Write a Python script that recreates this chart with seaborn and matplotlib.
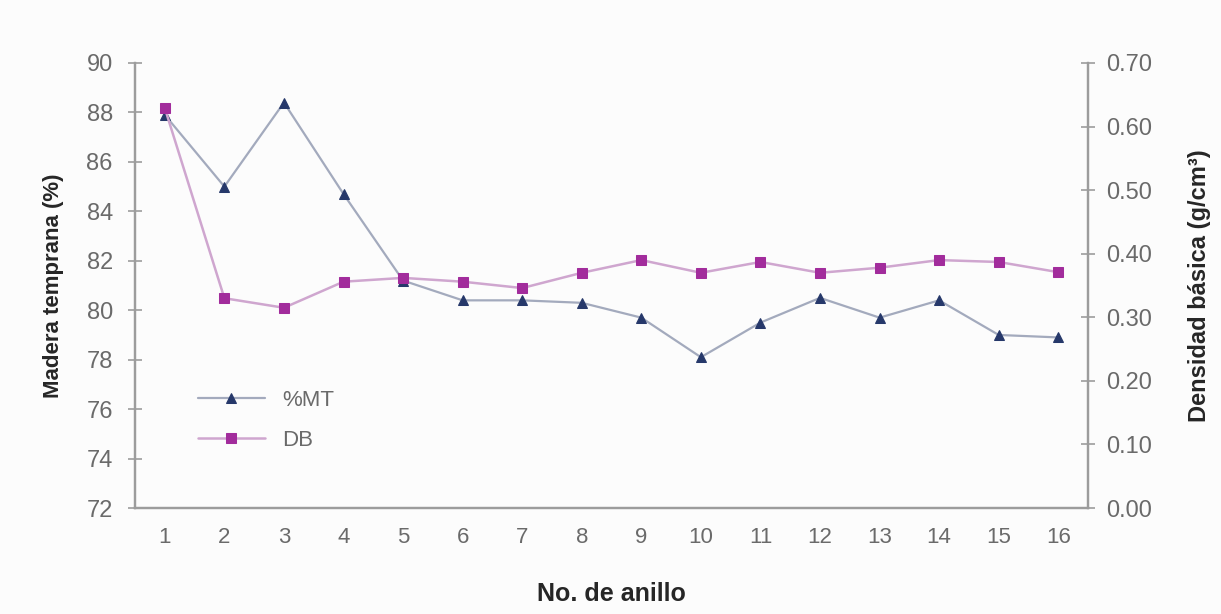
import matplotlib
matplotlib.use("Agg")
import matplotlib.pyplot as plt
import seaborn as sns
import pandas as pd

# Ring number along the stem
anillo = list(range(1, 17))
# Earlywood percentage per ring (left axis)
madera_temprana = [87.9, 85.0, 88.4, 84.7, 81.2, 80.4, 80.4, 80.3,
                   79.7, 78.1, 79.5, 80.5, 79.7, 80.4, 79.0, 78.9]
# Basic density per ring, g/cm3 (right axis)
densidad = [0.629, 0.330, 0.315, 0.356, 0.362, 0.356, 0.346, 0.370,
            0.390, 0.370, 0.387, 0.370, 0.378, 0.390, 0.387, 0.371]

left_ticks = [72, 74, 76, 78, 80, 82, 84, 86, 88, 90]
right_ticks = [0.0, 0.1, 0.2, 0.3, 0.4, 0.5, 0.6, 0.7]

df = pd.DataFrame({"anillo": anillo, "mt": madera_temprana, "db": densidad})

sns.set_theme(style="white")
plt.rcParams["font.family"] = ["Liberation Sans", "DejaVu Sans"]

fig = plt.figure(figsize=(12.21, 6.14), dpi=100, facecolor="#fcfcfc")
ax = fig.add_axes([0.1106, 0.1726, 0.7805, 0.7248])
ax.set_facecolor("#fcfcfc")
ax2 = ax.twinx()

axis_grey = "#9c9c9c"
tick_text = "#6a6a6a"

sns.lineplot(data=df, x="anillo", y="mt", ax=ax, color="#a3aabd", linewidth=1.6,
             marker="^", markersize=7, markerfacecolor="#26386a",
             markeredgecolor="#26386a", label="%MT", legend=False)
sns.lineplot(data=df, x="anillo", y="db", ax=ax2, color="#cfa6cf", linewidth=1.8,
             marker="s", markersize=7, markerfacecolor="#a22c9c",
             markeredgecolor="#a22c9c", label="DB", legend=False)

ax.set_xlim(0.5, 16.5)
ax.set_ylim(72, 90)
ax2.set_ylim(0, 0.7)

ax.set_xticks(anillo)
ax.set_xticklabels([str(a) for a in anillo])
ax.set_xticks([a - 0.5 for a in anillo] + [16.5], minor=True)
ax.tick_params(axis="x", which="major", length=0, pad=14, labelsize=16, labelcolor=tick_text)
ax.tick_params(axis="x", which="minor", length=6, direction="inout", color=axis_grey, width=1.2)

ax.set_yticks(left_ticks)
ax.set_yticklabels([str(v) for v in left_ticks])
ax.tick_params(axis="y", length=10, direction="inout", color=axis_grey, width=1.2,
               labelsize=17, labelcolor=tick_text, pad=11, left=True)

ax2.set_yticks(right_ticks)
ax2.set_yticklabels([f"{v:.2f}" for v in right_ticks])
ax2.tick_params(axis="y", length=10, direction="inout", color=axis_grey, width=1.2,
                labelsize=17, labelcolor=tick_text, pad=8, right=True)

for a in (ax, ax2):
    a.spines["top"].set_visible(False)
    for side in ("left", "right", "bottom"):
        a.spines[side].set_color(axis_grey)
        a.spines[side].set_linewidth(1.6)
    a.grid(False)

ax.set_xlabel("No. de anillo", fontsize=18, fontweight="bold", labelpad=24)
ax.set_ylabel("Madera temprana (%)", fontsize=16, fontweight="bold", labelpad=16)
ax2.set_ylabel("Densidad básica (g/cm³)", fontsize=17, fontweight="bold", labelpad=26)

handles = ax.get_lines()[:1] + ax2.get_lines()[:1]
ax.legend(handles, ["%MT", "DB"], loc="upper left", bbox_to_anchor=(0.045, 0.31),
          frameon=False, fontsize=16, handlelength=3.0, labelspacing=0.85,
          labelcolor=tick_text)

fig.savefig("out.png", dpi=100, facecolor=fig.get_facecolor())
